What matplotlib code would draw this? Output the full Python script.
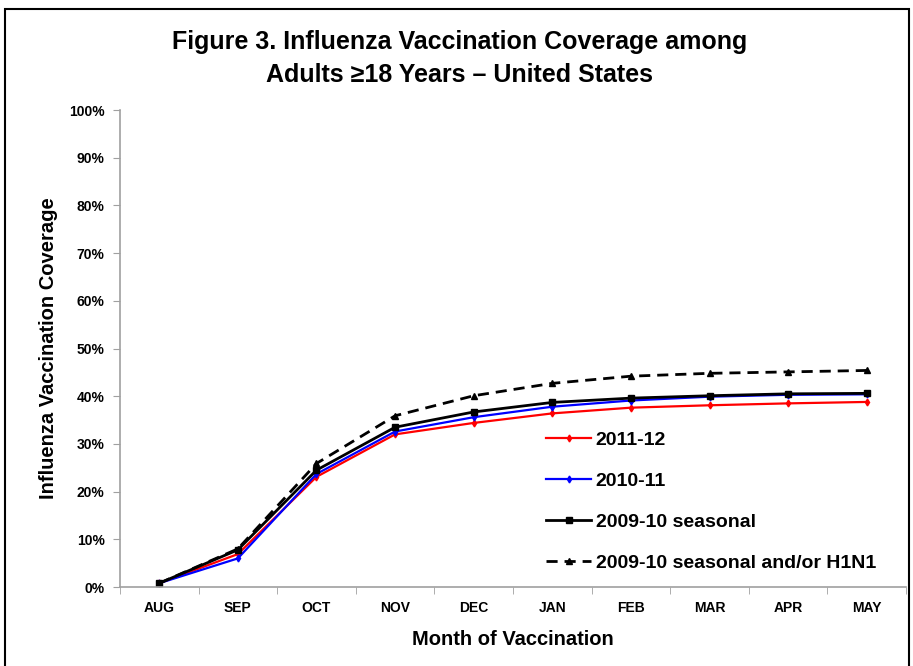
import matplotlib.pyplot as plt
from matplotlib.patches import Rectangle
from matplotlib.ticker import FixedLocator

plt.rcParams['font.family'] = ['Liberation Sans', 'DejaVu Sans']

months = ['AUG', 'SEP', 'OCT', 'NOV', 'DEC', 'JAN', 'FEB', 'MAR', 'APR', 'MAY']
cov_2011 = [0.8, 6.9, 23.1, 32.0, 34.4, 36.4, 37.6, 38.1, 38.5, 38.8]
cov_2010 = [0.8, 6.0, 23.7, 32.6, 35.6, 37.8, 39.1, 39.9, 40.3, 40.4]
cov_2009 = [0.8, 7.8, 24.5, 33.5, 36.7, 38.7, 39.6, 40.1, 40.5, 40.6]
cov_2009_h1n1 = [0.8, 8.0, 25.9, 35.9, 40.1, 42.7, 44.2, 44.8, 45.1, 45.4]
y_ticks = list(range(0, 101, 10))

fig = plt.figure(figsize=(9.13, 6.66), dpi=100)
ax = fig.add_axes([0.1314, 0.1186, 0.861, 0.7162])

x = list(range(len(months)))
ax.plot(x, cov_2011, color='red', lw=1.6, marker='d', ms=3.5, label='2011-12')
ax.plot(x, cov_2010, color='blue', lw=1.6, marker='d', ms=3.5, label='2010-11')
ax.plot(x, cov_2009, color='black', lw=2, marker='s', ms=5, label='2009-10 seasonal')
ax.plot(x, cov_2009_h1n1, color='black', lw=2, ls=(0, (4, 2.5)), marker='^', ms=4,
        label='2009-10 seasonal and/or H1N1')

ax.set_xlim(-0.5, len(months) - 0.5)
ax.set_ylim(0, 100)
ax.set_xticks(x)
ax.set_xticklabels(months, fontsize=10, fontweight='bold')
ax.xaxis.set_minor_locator(FixedLocator([i - 0.5 for i in range(len(months) + 1)]))
ax.tick_params(axis='x', which='major', length=0, pad=10)
ax.tick_params(axis='x', which='minor', length=5, color='#a0a0a0')
ax.set_yticks(y_ticks)
ax.set_yticklabels([f'{v}%' for v in y_ticks], fontsize=10, fontweight='bold')
ax.tick_params(axis='y', length=5, color='#a0a0a0', pad=6)

for s in ['top', 'right']:
    ax.spines[s].set_visible(False)
for s in ['left', 'bottom']:
    ax.spines[s].set_color('#a0a0a0')
    ax.spines[s].set_linewidth(1.2)

ax.set_xlabel('Month of Vaccination', fontsize=14.5, fontweight='bold', labelpad=11)
ax.set_ylabel('Influenza Vaccination Coverage', fontsize=14.5, fontweight='bold', labelpad=8)

ax.legend(loc='lower left', bbox_to_anchor=(0.52, -0.005), frameon=False,
          handlelength=2.3, handletextpad=0.25, labelspacing=1.2,
          prop={'weight': 'bold', 'size': 14})

fig.text(0.503, 0.937, 'Figure 3. Influenza Vaccination Coverage among',
         ha='center', va='center', fontsize=18, fontweight='bold')
fig.text(0.503, 0.887, 'Adults \u226518 Years \u2013 United States',
         ha='center', va='center', fontsize=18, fontweight='bold')

fig.patches.append(Rectangle((5 / 913, -0.02), 904 / 913, 1 - 9 / 666 + 0.02,
                             transform=fig.transFigure, fill=False,
                             edgecolor='black', lw=1.5))

fig.savefig('out.png', dpi=100)
